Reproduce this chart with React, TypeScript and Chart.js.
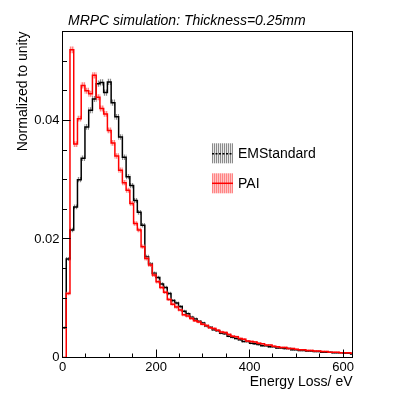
import React, { useEffect, useRef } from "react";
import { Chart, registerables } from "chart.js";

Chart.register(...registerables);

// ---- texts ----
const TITLE = "MRPC simulation: Thickness=0.25mm";
const X_TITLE = "Energy Loss/ eV";
const Y_TITLE = "Normalized to unity";
const SERIES_NAMES = ["EMStandard", "PAI"];

// ---- binning / axes ----
const BIN_LOW = 0;
const BIN_WIDTH = 8;
const X_MIN = 0;
const X_MAX = 620;
const Y_MIN = 0;
const Y_MAX = 0.055;
const X_TICKS = [0, 200, 400, 600];
const Y_TICKS = [0, 0.02, 0.04];
const X_TICK_STEP = 200;
const X_MINOR_STEP = 50;
const Y_TICK_STEP = 0.02;
const Y_MINOR_STEP = 0.005;

// ---- series: normalized bin contents (bins of 8 eV starting at 0) ----
const emStandard = [
  0.0050, 0.0166, 0.0215, 0.0254, 0.0300, 0.0336, 0.0389, 0.0417, 0.0436, 0.0462,
  0.0464, 0.0447, 0.0465, 0.0430, 0.0406, 0.0372, 0.0338, 0.0305, 0.0290, 0.0265,
  0.0245, 0.0223, 0.0170, 0.0158, 0.0142, 0.0135, 0.0124, 0.0118, 0.0108, 0.0096,
  0.0092, 0.0086, 0.0078, 0.0074, 0.0068, 0.0065, 0.0061, 0.0058, 0.0053, 0.0051,
  0.0047, 0.0045, 0.0041, 0.0040, 0.0036, 0.0034, 0.0032, 0.0030, 0.0027, 0.0027,
  0.0024, 0.0023, 0.0022, 0.0020, 0.0020, 0.0018, 0.0018, 0.0016, 0.0016, 0.0015,
  0.0015, 0.0013, 0.0013, 0.0012, 0.0012, 0.0011, 0.0011, 0.0010, 0.0010, 0.0009,
  0.0009, 0.0009, 0.0008, 0.0008, 0.0008, 0.0007, 0.0007, 0.0006,
];

const pai = [
  0.0000, 0.0108, 0.0519, 0.0360, 0.0403, 0.0459, 0.0450, 0.0445, 0.0476, 0.0439,
  0.0420, 0.0411, 0.0383, 0.0362, 0.0340, 0.0316, 0.0295, 0.0282, 0.0260, 0.0226,
  0.0215, 0.0187, 0.0167, 0.0156, 0.0139, 0.0128, 0.0118, 0.0110, 0.0098, 0.0090,
  0.0085, 0.0080, 0.0072, 0.0070, 0.0066, 0.0062, 0.0060, 0.0056, 0.0054, 0.0050,
  0.0049, 0.0046, 0.0043, 0.0042, 0.0039, 0.0036, 0.0035, 0.0032, 0.0031, 0.0028,
  0.0027, 0.0026, 0.0024, 0.0023, 0.0021, 0.0021, 0.0019, 0.0018, 0.0017, 0.0017,
  0.0015, 0.0015, 0.0014, 0.0013, 0.0013, 0.0012, 0.0012, 0.0011, 0.0011, 0.0010,
  0.0010, 0.0009, 0.0009, 0.0009, 0.0008, 0.0008, 0.0008, 0.0007,
];

// statistical (sqrt N) error scale for normalized contents
const ERR_SCALE = 0.0022;

const FONT = '"Liberation Sans", Arial, Helvetica, sans-serif';

function histPoints(vals: number[]) {
  const pts = vals.map((v, i) => ({ x: BIN_LOW + i * BIN_WIDTH, y: v }));
  pts.push({ x: BIN_LOW + vals.length * BIN_WIDTH, y: vals[vals.length - 1] });
  return pts;
}

function errBoxes(vals: number[]) {
  return vals.map((v, i) => {
    const e = ERR_SCALE * Math.sqrt(Math.max(v, 0));
    return { x: BIN_LOW + (i + 0.5) * BIN_WIDTH, y: [v - e, v + e] };
  });
}

function makePattern(c1: string, c2: string) {
  const pc = document.createElement("canvas");
  pc.width = 2;
  pc.height = 2;
  const p = pc.getContext("2d")!;
  p.fillStyle = c1;
  p.fillRect(0, 0, 1, 2);
  p.fillStyle = c2;
  p.fillRect(1, 0, 1, 2);
  const ctx = document.createElement("canvas").getContext("2d")!;
  return ctx.createPattern(pc, "repeat")!;
}

export default function App() {
  const ref = useRef<HTMLCanvasElement | null>(null);

  useEffect(() => {
    document.body.style.margin = "0";
    const canvas = ref.current;
    if (!canvas) return;

    const blackPat = makePattern("rgba(110,110,110,0.8)", "rgba(210,210,210,0.5)");
    const redPat = makePattern("rgba(255,80,80,0.7)", "rgba(255,150,150,0.55)");

    const decor = {
      id: "decor",
      afterDatasetsDraw(chart: any) {
        const { ctx, chartArea: a, scales } = chart;
        const xs = scales.x;
        const ys = scales.y;
        ctx.save();
        ctx.strokeStyle = "#000";
        ctx.lineWidth = 1;
        ctx.strokeRect(a.left, a.top, a.right - a.left, a.bottom - a.top);
        ctx.beginPath();
        const nx = Math.round((X_MAX - X_MIN) / X_MINOR_STEP);
        for (let i = 0; i <= nx; i++) {
          const v = X_MIN + i * X_MINOR_STEP;
          const px = Math.round(xs.getPixelForValue(v) - 0.5) + 0.5;
          const major = Math.abs(v / X_TICK_STEP - Math.round(v / X_TICK_STEP)) < 1e-6;
          ctx.moveTo(px, a.bottom);
          ctx.lineTo(px, a.bottom - (major ? 8 : 4));
        }
        const ny = Math.round((Y_MAX - Y_MIN) / Y_MINOR_STEP + 1e-6);
        for (let i = 0; i <= ny; i++) {
          const v = Y_MIN + i * Y_MINOR_STEP;
          const py = Math.round(ys.getPixelForValue(v) - 0.5) + 0.5;
          const major = Math.abs(v / Y_TICK_STEP - Math.round(v / Y_TICK_STEP)) < 1e-6;
          ctx.moveTo(a.left, py);
          ctx.lineTo(a.left + (major ? 8 : 4.5), py);
        }
        ctx.stroke();
        ctx.restore();
      },
      afterDraw(chart: any) {
        const { ctx } = chart;
        ctx.save();
        // title
        ctx.fillStyle = "#000";
        ctx.font = `italic 14px ${FONT}`;
        ctx.textBaseline = "alphabetic";
        ctx.textAlign = "left";
        ctx.fillText(TITLE, 68, 24.5);

        // legend
        const bx = 212;
        const bw = 21;
        const bh = 20;
        const rows = [153.3, 183.3];
        ctx.fillStyle = blackPat;
        ctx.fillRect(bx, rows[0] - bh / 2, bw, bh);
        ctx.strokeStyle = "#000";
        ctx.lineWidth = 1.5;
        ctx.setLineDash([2, 1.5]);
        ctx.beginPath();
        ctx.moveTo(bx, rows[0] + 0.5);
        ctx.lineTo(bx + bw, rows[0] + 0.5);
        ctx.stroke();
        ctx.setLineDash([]);
        ctx.fillStyle = redPat;
        ctx.fillRect(bx, rows[1] - bh / 2, bw, bh);
        ctx.strokeStyle = "#ff0000";
        ctx.lineWidth = 1.5;
        ctx.beginPath();
        ctx.moveTo(bx, rows[1]);
        ctx.lineTo(bx + bw, rows[1]);
        ctx.stroke();

        ctx.fillStyle = "#000";
        ctx.font = `14px ${FONT}`;
        ctx.textBaseline = "middle";
        ctx.fillText(SERIES_NAMES[0], 238, rows[0] + 1.2);
        ctx.fillText(SERIES_NAMES[1], 238, rows[1] + 1.2);
        ctx.restore();
      },
    };

    const chart = new Chart(canvas, {
      type: "line",
      data: {
        datasets: [
          {
            type: "line",
            label: SERIES_NAMES[1],
            data: histPoints(pai),
            borderColor: "#ff0000",
            borderWidth: 1.5,
            stepped: true,
            pointRadius: 0,
            fill: false,
            order: 0,
          } as any,
          {
            type: "bar",
            label: SERIES_NAMES[1] + " err",
            data: errBoxes(pai),
            backgroundColor: redPat,
            borderWidth: 0,
            grouped: false,
            categoryPercentage: 1,
            barPercentage: 1,
            order: 1,
          } as any,
          {
            type: "line",
            label: SERIES_NAMES[0],
            data: histPoints(emStandard),
            borderColor: "#000000",
            borderWidth: 1.5,
            stepped: true,
            pointRadius: 0,
            fill: false,
            order: 2,
          } as any,
          {
            type: "bar",
            label: SERIES_NAMES[0] + " err",
            data: errBoxes(emStandard),
            backgroundColor: blackPat,
            borderWidth: 0,
            grouped: false,
            categoryPercentage: 1,
            barPercentage: 1,
            order: 3,
          } as any,
        ],
      },
      options: {
        responsive: false,
        animation: false,
        events: [],
        layout: { padding: { left: 0, right: 62.5, top: 31.5, bottom: 0 } },
        plugins: {
          legend: { display: false },
          title: { display: false },
          tooltip: { enabled: false },
        },
        scales: {
          x: {
            type: "linear",
            min: X_MIN,
            max: X_MAX,
            offset: false,
            grid: { display: false, drawTicks: false },
            border: { display: false },
            ticks: {
              autoSkip: false,
              padding: 2,
              color: "#000",
              font: { size: 13, family: FONT },
              maxRotation: 0,
              callback: (v: any) => String(v),
            },
            afterBuildTicks: (s: any) => {
              s.ticks = X_TICKS.map((v) => ({ value: v }));
            },
            title: {
              display: true,
              text: X_TITLE,
              align: "end",
              color: "#000",
              font: { size: 14, family: FONT },
              padding: { top: 0, bottom: 7.75 },
            },
            afterFit: (s: any) => {
              s.height = 40.5;
            },
          },
          y: {
            type: "linear",
            min: Y_MIN,
            max: Y_MAX,
            grid: { display: false, drawTicks: false },
            border: { display: false },
            ticks: {
              autoSkip: false,
              padding: 3,
              color: "#000",
              font: { size: 13, family: FONT },
              callback: (v: any) => (Math.abs(v) < 1e-12 ? "0" : String(+Number(v).toFixed(3))),
            },
            afterBuildTicks: (s: any) => {
              s.ticks = Y_TICKS.map((v) => ({ value: v }));
            },
            title: {
              display: true,
              text: Y_TITLE,
              align: "end",
              color: "#000",
              font: { size: 14, family: FONT },
              padding: { top: 15, bottom: 0 },
            },
            afterFit: (s: any) => {
              s.width = 62.5;
            },
          },
        },
      },
      plugins: [decor],
    } as any);

    return () => chart.destroy();
  }, []);

  return (
    <div style={{ width: 415, height: 398 }}>
      <canvas ref={ref} width={415} height={398} style={{ display: "block", width: 415, height: 398 }} />
    </div>
  );
}
